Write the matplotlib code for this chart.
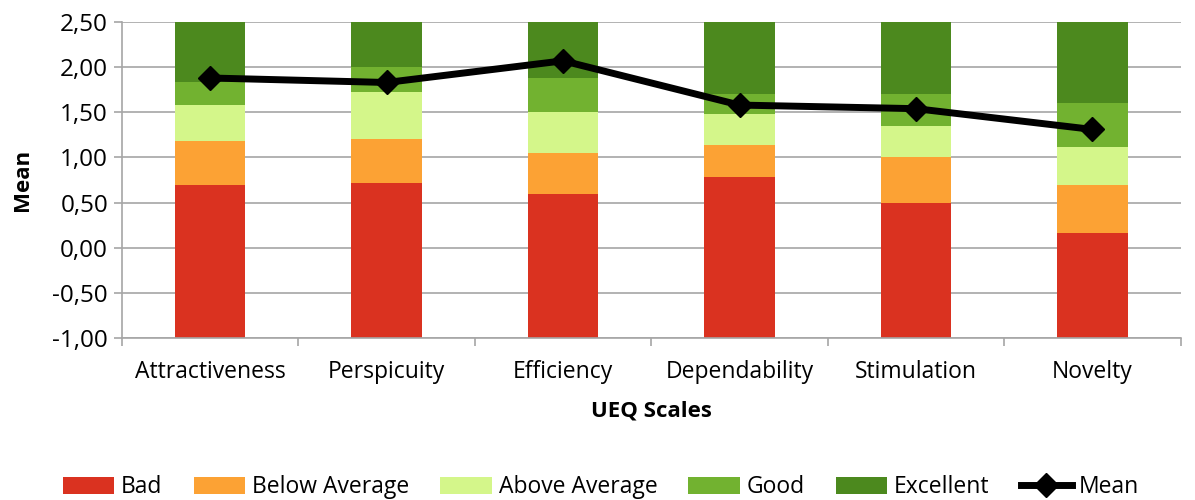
import numpy as np
import matplotlib.pyplot as plt
from matplotlib.ticker import FuncFormatter

plt.rcParams['font.family'] = ['Open Sans', 'DejaVu Sans']

scales = ["Attractiveness", "Perspicuity", "Efficiency", "Dependability", "Stimulation", "Novelty"]
# benchmark upper bounds per category
bad = [0.69, 0.72, 0.60, 0.78, 0.50, 0.16]
below_avg = [1.18, 1.20, 1.05, 1.14, 1.00, 0.70]
above_avg = [1.58, 1.73, 1.50, 1.48, 1.35, 1.12]
good = [1.84, 2.00, 1.88, 1.70, 1.70, 1.60]
excellent = [2.50, 2.50, 2.50, 2.50, 2.50, 2.50]
means = [1.88, 1.83, 2.07, 1.58, 1.54, 1.31]

ymin = -1.0
bands = [("Bad", bad, "#DA3220"),
         ("Below Average", below_avg, "#FCA234"),
         ("Above Average", above_avg, "#D4F68A"),
         ("Good", good, "#72B230"),
         ("Excellent", excellent, "#4C891E")]

fig = plt.figure(figsize=(11.95, 5.0), dpi=100)
ax = fig.add_axes([0.102, 0.324, 0.886, 0.632])

x = np.arange(len(scales))
lower = np.full(len(scales), ymin)
handles = []
for name, upper, color in bands:
    upper = np.array(upper)
    h = ax.bar(x, upper - lower, bottom=lower, width=0.4, color=color, label=name, zorder=2)
    handles.append(h)
    lower = upper

line, = ax.plot(x, means, color="black", lw=5, marker="D", markersize=12, label="Mean", zorder=3)
handles.append(line)

ax.set_ylim(-1.0, 2.5)
ax.set_xlim(-0.5, len(scales) - 0.5)
ax.set_yticks(np.arange(-1.0, 2.51, 0.5))
ax.yaxis.set_major_formatter(FuncFormatter(lambda v, p: f"{v:.2f}".replace(".", ",")))
ax.grid(axis="y", color="#A6A6A6", lw=1.2, zorder=0)
ax.set_axisbelow(True)

ax.set_xticks(x)
ax.set_xticklabels(scales)
ax.set_xticks(np.arange(-0.5, len(scales), 1.0), minor=True)
ax.tick_params(axis="x", which="major", length=0, pad=16, labelsize=16.5)
ax.tick_params(axis="x", which="minor", length=6, color="#A6A6A6", width=1.2)
ax.tick_params(axis="y", length=6, color="#A6A6A6", width=1.2, labelsize=17.5, pad=4)

for side in ["top", "right"]:
    ax.spines[side].set_visible(False)
ax.spines["left"].set_color("#A6A6A6")
ax.spines["bottom"].set_color("#A6A6A6")
ax.spines["left"].set_linewidth(1.2)
ax.spines["bottom"].set_linewidth(1.2)

ax.set_ylabel("Mean", fontsize=16, fontweight="bold", labelpad=14)
ax.set_xlabel("UEQ Scales", fontsize=16, fontweight="bold", labelpad=12)

fig.legend(handles=handles, labels=[h.get_label() for h in handles],
           loc="lower center", bbox_to_anchor=(0.503, -0.04), ncol=6, frameon=False,
           fontsize=16.5, handlelength=2.25, handleheight=0.8, columnspacing=1.35, handletextpad=0.3)

fig.savefig("out.png", dpi=100)
